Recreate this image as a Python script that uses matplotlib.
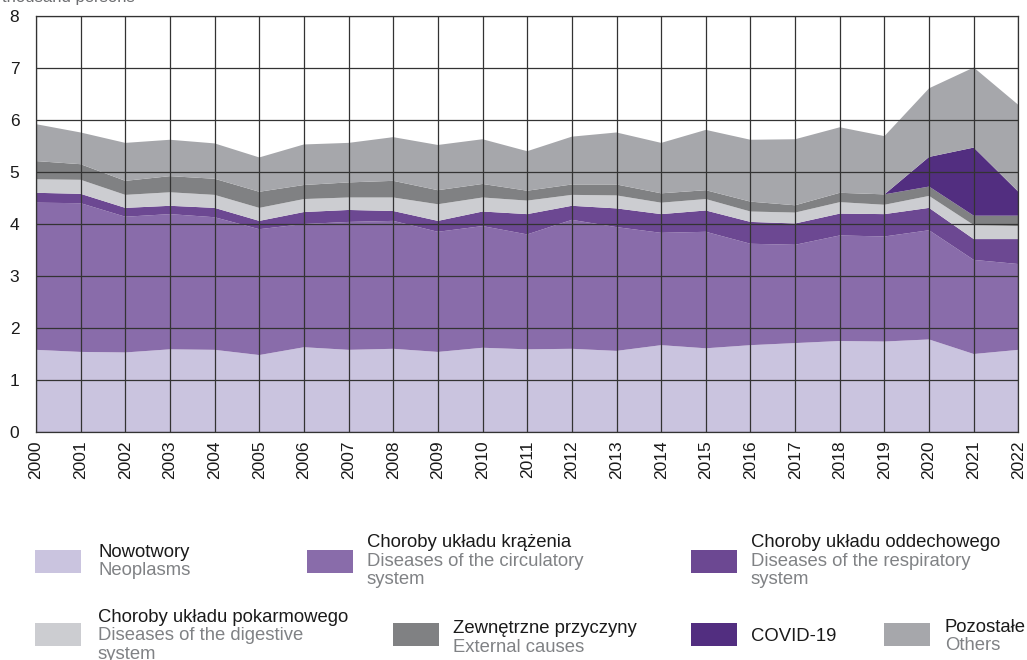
import matplotlib
matplotlib.use("Agg")
import matplotlib.pyplot as plt
from matplotlib.patches import Rectangle

plt.rcParams['font.family'] = ['Liberation Sans', 'DejaVu Sans']

years = list(range(2000, 2023))
neoplasms = [1.58, 1.54, 1.53, 1.59, 1.58, 1.48, 1.63, 1.58, 1.60, 1.54, 1.62, 1.59,
             1.60, 1.56, 1.67, 1.61, 1.67, 1.71, 1.75, 1.74, 1.78, 1.50, 1.58]
circulatory = [2.83, 2.86, 2.61, 2.60, 2.55, 2.42, 2.37, 2.46, 2.46, 2.31, 2.34, 2.21,
               2.48, 2.38, 2.16, 2.24, 1.95, 1.89, 2.03, 2.02, 2.10, 1.81, 1.65]
respiratory = [0.19, 0.18, 0.17, 0.16, 0.18, 0.16, 0.23, 0.23, 0.19, 0.21, 0.28, 0.39,
               0.27, 0.36, 0.36, 0.41, 0.42, 0.41, 0.42, 0.43, 0.43, 0.40, 0.48]
digestive = [0.26, 0.27, 0.25, 0.26, 0.25, 0.25, 0.25, 0.24, 0.26, 0.32, 0.27, 0.26,
             0.21, 0.25, 0.22, 0.22, 0.20, 0.21, 0.22, 0.18, 0.23, 0.27, 0.25]
external = [0.35, 0.30, 0.27, 0.31, 0.31, 0.31, 0.27, 0.29, 0.32, 0.27, 0.26, 0.19,
            0.20, 0.21, 0.18, 0.17, 0.19, 0.14, 0.18, 0.20, 0.18, 0.18, 0.20]
covid = [0, 0, 0, 0, 0, 0, 0, 0, 0, 0, 0, 0,
         0, 0, 0, 0, 0, 0, 0, 0, 0.57, 1.31, 0.46]
others = [0.71, 0.61, 0.73, 0.70, 0.68, 0.66, 0.78, 0.76, 0.84, 0.87, 0.86, 0.76,
          0.92, 1.00, 0.97, 1.16, 1.19, 1.27, 1.26, 1.12, 1.32, 1.54, 1.67]

series = [neoplasms, circulatory, respiratory, digestive, external, covid, others]
colors = ['#cac4df', '#896caa', '#6c4892', '#cccdd1', '#808183', '#522e80', '#a6a7ab']
labels_pl = ['Nowotwory', 'Choroby układu krążenia', 'Choroby układu oddechowego',
             'Choroby układu pokarmowego', 'Zewnętrzne przyczyny', 'COVID-19', 'Pozostałe']
labels_en = [['Neoplasms'], ['Diseases of the circulatory', 'system'],
             ['Diseases of the respiratory', 'system'],
             ['Diseases of the digestive', 'system'], ['External causes'], [], ['Others']]

W, H = 1027, 660
fig = plt.figure(figsize=(W / 100, H / 100), dpi=100)
ax = fig.add_axes([36 / W, 1 - 432 / H, (1018.4 - 36) / W, (432 - 16) / H])

ax.stackplot(years, *series, colors=colors, linewidth=0)
ax.set_xlim(2000, 2022)
ax.set_ylim(0, 8)
ax.set_xticks(years)
ax.set_xticklabels([str(y) for y in years], rotation=90)
ax.set_yticks(range(0, 9))
ax.tick_params(axis='both', length=0, labelsize=12.5, colors='#1a1a1a')
ax.tick_params(axis='y', pad=12)
ax.tick_params(axis='x', pad=6)
ax.grid(True, color='#333333', linewidth=0.9)
ax.set_axisbelow(False)
for s in ax.spines.values():
    s.set_color('#333333')
    s.set_linewidth(0.9)

fig.text(2 / W, 1 - 2 / H, 'thousand persons', fontsize=12, color='#6d6e71', va='baseline', ha='left')

# legend: (series index, patch x, text x, patch top, baseline of first line)
pw, ph = 46, 23
items = [
    (0, 35, 98, 550, 556.7),
    (1, 307, 367, 550, 547.3),
    (2, 691, 751, 550, 547.3),
    (3, 35, 98, 623, 621.7),
    (4, 393, 453, 623, 633.3),
    (5, 691, 751, 623, 640.7),
    (6, 884, 945, 623, 631.7),
]
fs = 13.3
step = 18.5
for idx, px, tx, ptop, base in items:
    fig.patches.append(Rectangle((px / W, 1 - (ptop + ph) / H), pw / W, ph / H,
                                 transform=fig.transFigure, facecolor=colors[idx],
                                 edgecolor='none'))
    fig.text(tx / W, 1 - base / H, labels_pl[idx], fontsize=fs, color='#1a1a1a',
             va='baseline', ha='left')
    for k, line in enumerate(labels_en[idx]):
        fig.text(tx / W, 1 - (base + step * (k + 1)) / H, line, fontsize=fs,
                 color='#808285', va='baseline', ha='left')

fig.savefig('out.png', dpi=100)
